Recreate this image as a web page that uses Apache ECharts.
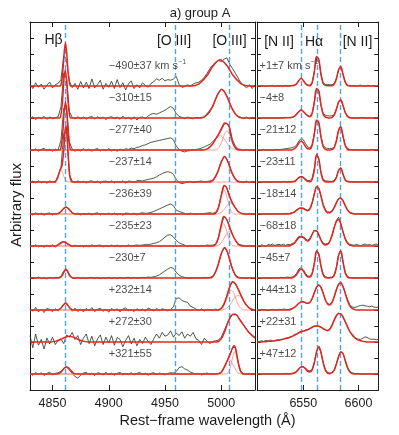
<!DOCTYPE html>
<html><head><meta charset="utf-8">
<script src="https://cdn.jsdelivr.net/npm/echarts@6/dist/echarts.min.js"></script>
<style>html,body{margin:0;padding:0;background:#fff}#c{width:399px;height:435px}</style>
</head><body><div id="c"></div>
<script>
// ---------------- DATA ----------------
const leftStart = 4830, leftStep = 2.5;     // observed grid, left panel (Angstrom)
const rightStart = 6508, rightStep = 2;     // observed grid, right panel
const restLeft = [4861.3, 4958.9, 5006.8];
const restRight = [6548.05, 6562.8, 6583.45];
const ticksLeft = [4850, 4900, 4950, 5000];
const ticksRight = [6550, 6600];
const velLeft = ['−490±37', '−310±15', '−277±40', '−237±14', '−236±39', '−235±23', '−230±7', '+232±14', '+272±30', '+321±55'];
const velRight = ['+1±7', '−4±8', '−21±12', '−23±11', '−18±14', '−68±18', '−45±7', '+44±13', '+22±31', '+47±12'];

// observed spectra, left panel (flux, 100 = row spacing)
const obsL1 = [5,-8,10,-4,6,-10,3,12,-6,4, 8,20,95,80,15,-5,8,-10,14,-6, 12,-8,22,-6,5,18,-10,8,-4,15, -8,20,-5,10,-12,6,16,-8,4,-6, 10,2,-4,8,14,22,18,24,16,20, 18,22,30,5,-4,-2,4,0,6,10, 12,18,28,40,55,66,74,80,76,84,88,68,55,40,25,10,2,-6,4,-8,3];
const obsL2 = [-3,4,-5,2,-2,5,-4,3,-2,1, 4,35,140,125,20,2,-3,4,-2,3, -4,2,5,-3,4,-2,3,-5,2,4, -2,3,-4,6,-3,2,-5,4,-6,2, 3,-2,6,12,14,12,16,20,24,30, 36,30,14,5,2,-2,3,0,-3,2, 0,2,3,9,19,37,59,79,90,85,68,46,26,12,5,2,-2,3,-3,2,0];
const obsL3 = [3,-2,4,-4,2,5,-3,2,-4,3, 0,30,130,140,25,3,-4,2,-3,4, -2,3,-4,2,5,-3,2,-2,4,-3, 2,-4,3,-2,4,2,6,4,8,10, 14,16,20,24,26,28,30,32,34,36, 38,32,12,2,-4,-6,-3,-2,0,2, 3,6,10,14,18,26,36,48,62,80,84,70,32,12,4,2,-2,2,-1,2,0];
const obsL4 = [-2,3,-3,4,-2,2,-4,3,1,-2, 20,45,150,165,22,3,-3,4,-2,2, -3,2,4,-2,3,-4,2,3,-2,4, -3,2,-2,4,-3,3,2,-2,4,5, 3,6,8,10,12,16,22,26,30,32, 30,24,8,-2,-5,-3,0,2,-2,1, 2,3,1,2,3,6,16,38,64,80,72,50,24,9,3,1,-2,3,-2,2,0];
const obsL5 = [2,-3,4,-2,3,-4,2,3,-3,2, 2,8,18,22,12,4,-2,3,-3,2, -2,3,-3,2,4,-3,2,-2,3,-2, 3,-3,2,-4,3,2,-2,3,-3,2, 4,2,3,5,8,12,16,20,24,28, 31,26,12,8,5,2,-2,3,0,-2, 2,-1,2,3,4,2,5,20,58,89,82,55,34,19,8,2,0,-2,2,-1,0];
const obsL6 = [3,-2,4,-3,2,-4,3,-2,4,-3, 5,12,14,8,2,-2,3,-2,2,-3, 2,-3,4,-2,2,3,-3,2,-2,3, -2,3,-3,2,-2,4,-2,2,3,2, 3,5,4,6,8,10,14,20,28,34, 35,28,18,10,6,3,-2,2,-1,2, -2,2,1,3,2,3,5,26,66,92,82,58,36,18,6,3,2,-2,2,-1,0];
const obsL7 = [-2,2,-1,3,-2,1,-3,2,-1,2, 1,5,22,26,6,0,-2,2,-1,1, -2,1,2,-1,2,-2,1,-1,2,-1, 1,-2,2,-1,1,2,-1,2,0,1, 2,1,3,2,4,6,10,16,22,28, 33,30,18,9,4,2,0,-1,1,0, 1,0,2,1,2,6,20,45,76,94,86,58,28,10,3,1,0,-1,1,0,0];
const obsL8 = [6,-4,8,-6,3,-8,5,2,-5,4, -3,6,18,22,8,-4,6,-5,3,-6, 5,-3,8,-5,2,6,-4,3,-7,5, -2,4,-6,3,7,-3,2,-5,4,-2, 3,-4,6,2,-3,5,-2,4,1,-3, 2,10,36,38,30,26,24,12,8,3, -2,4,-3,2,1,-2,3,-1,5,19,44,72,88,82,65,46,28,15,6,2,1];
const obsL9 = [20,-18,25,-10,8,-22,12,-6,15,-8, 5,10,-5,22,15,30,8,20,-8,12, 25,-5,18,-12,10,22,-8,15,-3,20, -10,14,8,-15,5,20,-6,12,-12,8, -5,15,2,-8,10,25,12,30,18,22, 35,15,28,20,32,12,25,18,30,10, 5,-8,12,2,-5,2,4,6,15,35,55,72,86,88,78,66,52,40,30,22,15];
const obsL10 = [3,-4,5,-2,4,-5,2,6,-3,2, 4,8,18,22,12,2,-8,-13,-4,3, 5,-2,3,-5,4,2,-3,5,-2,3, -4,2,5,-3,2,-2,4,-3,2,5, -2,3,-4,2,4,-2,3,1,-3,2, 4,3,8,20,23,16,12,6,3,-2, 2,-3,1,3,-1,2,1,2,6,20,40,58,82,84,37,7,1,-2,2,-1,1];

// model fits, left panel: [wavelength, flux]
const fitL1 = [[4830,0],[4856.7,0],[4858,12],[4859.3,50],[4860.4,105],[4861.5,134],[4862.6,105],[4863.7,50],[4865,12],[4866.3,0],[4973.5,0],[4980.3,7],[4987,31],[4993,64],[4999,82],[5005,64],[5011,31],[5017.7,7],[5024.5,0],[5030,0]];
const fitL2 = [[4830,0],[4856.2,0],[4857.6,13],[4859,56],[4860.1,117],[4861.3,150],[4862.5,117],[4863.7,56],[4865,13],[4866.4,0],[4982.5,0],[4986.3,8],[4992.1,35],[4996.3,70],[5000.5,90],[5004.7,70],[5008.9,35],[5013.7,8],[5018.5,0],[5030,0]];
const fitL3 = [[4830,0],[4856.4,0],[4857.8,13],[4859.2,56],[4860.3,117],[4861.5,150],[4862.7,117],[4863.8,56],[4865.2,13],[4866.6,0],[4984,0],[4988,4],[4992,17],[4995,34],[4998,52],[5001,73],[5003,84],[5005,82],[5007,73],[5009,37],[5011,16],[5013,5],[5016,0],[5030,0]];
const fitL4 = [[4830,0],[4851,0],[4853,3],[4855,18],[4857,40],[4858.5,51],[4860,98],[4861,153],[4862,176],[4863,145],[4864,80],[4865.5,16],[4867,1],[4868,0],[4989.5,0],[4993,7],[4996.7,30],[5000,62],[5003,80],[5006,62],[5009.3,30],[5013,7],[5016.5,0],[5030,0]];
const fitL5 = [[4830,0],[4853,0],[4855.5,2],[4857.8,8.5],[4859.9,17],[4862,22],[4864.1,17],[4866.2,8.5],[4868.5,2],[4871,0],[4993,0],[4996,7],[4998,26],[5000,58],[5002.5,89],[5004.5,84],[5006.5,64],[5008,49],[5010,34],[5012.5,19],[5015,8],[5018,2],[5021,0],[5030,0]];
const fitL6 = [[4830,0],[4851,0],[4853.5,1],[4855.8,5],[4857.9,10],[4860,13],[4862.1,10],[4864.2,5],[4866.5,1],[4869,0],[4992,0],[4995,5],[4997.5,26],[5000,66],[5002.2,92],[5005,82],[5007.5,58],[5010,36],[5012.5,18],[5015,6],[5018,1],[5021,0],[5030,0]];
const fitL7 = [[4830,0],[4855.4,0],[4857.2,2.5],[4859,10],[4860.5,21],[4862,27],[4863.5,21],[4865,10],[4866.8,2.5],[4868.6,0],[4989.5,0],[4993,6],[4996.7,35],[5000,76],[5003,95],[5006,76],[5009.3,35],[5013,6],[5016.5,0],[5030,0]];
const fitL8 = [[4830,0],[4854,0],[4856,2],[4858,8],[4860,17],[4861.5,22],[4863,17],[4865,8],[4867,2],[4869,0],[4997,0],[5000,5],[5002.5,19],[5005,44],[5007.5,72],[5010,88],[5012.5,82],[5015,65],[5017.5,46],[5020,28],[5022.5,15],[5025,6],[5028,1],[5030,0]];
const fitL9 = [[4830,0],[4847,0],[4852,2],[4856.6,7],[4860.8,14],[4865,18],[4869.2,14],[4873.4,7],[4878,2],[4883,0],[4996,0],[5000,10],[5003,32],[5006,62],[5010,86],[5013,86],[5016,72],[5020,52],[5024,32],[5028,18],[5030,12]];
const fitL10 = [[4830,0],[4853.5,0],[4856,2],[4858.3,9],[4860.4,18],[4862.5,23],[4864.6,18],[4866.7,9],[4869,2],[4871.5,0],[4996,0],[4999,3],[5001,10],[5004,31],[5007,55],[5009,72],[5010.5,85],[5011.7,88],[5013,75],[5014,57],[5015,37],[5016,21],[5017.5,7],[5020,0],[5030,0]];

// fit components, left panel
const compL3a = [[4830,0],[4984,0],[4988,4],[4992,17],[4995,33],[4999,45],[5003,33],[5006,17],[5010,4],[5014,0],[5030,0]];
const compL3b = [[4830,0],[4994.5,0],[4998,8],[5001,31],[5003,51],[5005,60],[5007,51],[5009,31],[5012,8],[5015.5,0],[5030,0]];
const compL4a = [[4830,0],[4851,0],[4853,3],[4855,18],[4857.5,40],[4860,18],[4862,3],[4864,0],[5030,0]];
const compL5a = [[4830,0],[4993.5,0],[4996,7],[4998.3,32],[5000.4,58],[5002.5,75],[5004.6,58],[5006.7,32],[5009,7],[5011.5,0],[5030,0]];
const compL5b = [[4830,0],[4996,0],[5000,5],[5003,16],[5005,27],[5008,35],[5011,27],[5013,16],[5016,5],[5020,0],[5030,0]];
const compL6a = [[4830,0],[4993,0],[4995.5,7],[4997.8,30],[4999.9,55],[5002,70],[5004.1,55],[5006.2,30],[5008.5,7],[5011,0],[5030,0]];
const compL6b = [[4830,0],[4995,0],[4999,6],[5002,21],[5004.2,35],[5007,45],[5009.8,35],[5012,21],[5015,6],[5019,0],[5030,0]];
const compL8a = [[4830,0],[4997,0],[5001,6],[5004.5,30],[5006.8,53],[5009,62],[5011.2,53],[5013.5,30],[5017,6],[5021,0],[5030,0]];
const compL8b = [[4830,0],[5000,0],[5005,6],[5009,22],[5012,40],[5015,45],[5018,40],[5021,22],[5025,6],[5030,0]];
const compL10a = [[4830,0],[5004.5,0],[5007,9.5],[5009,34],[5010.5,58],[5012,70],[5013.5,58],[5015,34],[5017,9.5],[5019.5,0],[5030,0]];
const compL10b = [[4830,0],[4996.5,0],[4999.5,5],[5002,19],[5004.5,35],[5007,45],[5009.5,35],[5012,19],[5014.5,5],[5017.5,0],[5030,0]];

// observed spectra, right panel
const obsR1 = [2,-1,1,0,-2,1,0,2,-1,1, 0,1,-1,2,0,1,2,3,8,18, 25,18,8,3,3,11,46,90,82,38, 10,5,5,4,4,8,24,52,60,37, 13,3,1,0,2,-1,1,3,0,-1, 2,1,0,2,-1,1];
const obsR2 = [1,0,-1,1,0,-1,1,0,1,-1, 0,1,0,2,1,2,3,6,13,21, 25,21,14,8,5,15,50,88,84,42, 14,9,7,6,7,11,28,50,55,39, 18,6,2,0,1,-1,0,1,2,0, -1,1,0,1,2,0];
const obsR3 = [1,-1,0,2,-1,1,0,-1,1,2, 1,2,3,4,5,6,8,10,16,28, 36,32,20,10,6,17,52,92,86,43, 14,7,5,4,5,9,30,62,72,44, 16,5,2,1,0,2,-1,1,0,1, -1,0,2,1,0,1];
const obsR4 = [1,0,-1,1,0,1,-1,0,1,0, 1,0,2,1,0,1,2,3,8,15, 17,15,9,5,4,12,42,88,72,31, 8,4,3,2,2,5,16,38,44,26, 8,3,2,1,0,1,0,-1,1,0, 1,0,-1,1,0,1];
const obsR5 = [1,0,-1,1,0,1,0,-1,1,0, 1,0,1,2,1,2,4,7,13,18, 19,18,15,12,17,36,64,86,80,57, 30,13,7,6,10,21,36,48,50,42, 27,14,6,3,1,0,1,0,-1,1, 0,1,0,-1,1,0];
const obsR6 = [2,-3,4,1,-2,5,3,6,2,4, 5,3,6,2,5,4,8,10,22,30, 28,29,22,18,24,37,50,47,36,20, 9,6,8,15,34,58,80,90,70,45, 24,12,6,4,2,5,3,1,4,6, 3,5,2,4,6,3];
const obsR7 = [1,0,-1,1,0,1,-1,0,1,0, 1,2,1,2,3,2,3,7,15,28, 32,26,14,7,5,15,46,86,75,38, 12,4,2,2,3,10,34,72,84,51, 18,5,2,1,0,1,0,-1,1,0, 1,0,-1,1,0,1];
const obsR8 = [1,-1,2,0,1,-2,1,2,0,1, 2,1,3,2,1,3,5,9,15,22, 26,25,22,20,23,35,55,72,79,70, 52,31,20,18,24,42,64,82,86,74, 54,33,18,10,8,9,12,14,15,13, 12,10,12,9,8,10];
const obsR9 = [3,1,4,2,5,3,6,4,3,7, 5,9,8,12,11,16,17,24,24,30, 34,33,38,38,43,45,50,49,48,47, 41,39,35,41,53,70,84,90,87,79, 62,49,33,22,14,10,9,8,12,16, 14,10,8,9,7,8];
const obsR10 = [1,0,-1,1,0,1,0,-1,1,0, 1,0,1,2,1,1,2,4,9,17, 23,23,18,12,10,14,37,70,86,67, 36,14,5,3,5,13,32,56,70,64, 43,22,9,4,2,1,2,0,1,-1, 1,0,1,-1,0,1];

// model fits, right panel (same wavelength grid)
const fitR1 = [0,0,0,0,0,0,0,0,0,0, 0,0,0,0,0,0,1,2,7,17, 24,17,7,2,1,10,44,92,84,36, 8,2,1,1,1,6,22,50,60,36, 12,2,0,0,0,0,0,0,0,0, 0,0,0,0,0,0];
const fitR2 = [0,0,0,0,0,0,0,0,0,0, 0,0,0,1,1,1,2,5,12,20, 25,20,13,7,4,14,50,92,85,40, 12,3,1,0,2,9,27,50,56,39, 17,5,1,0,0,0,0,0,0,0, 0,0,0,0,0,0];
const fitR3 = [0,0,0,0,0,0,0,0,0,0, 0,0,0,0,0,0,1,4,11,22, 27,22,11,4,3,15,50,94,86,41, 11,2,0,0,1,7,28,62,73,43, 14,2,0,0,0,0,0,0,0,0, 0,0,0,0,0,0];
const fitR4 = [0,0,0,0,0,0,0,0,0,0, 0,0,0,0,0,0,0,1,7,14, 17,14,7,2,1,8,37,84,72,29, 5,1,0,0,0,3,14,36,44,24, 6,1,0,0,0,0,0,0,0,0, 0,0,0,0,0,0];
const fitR5 = [0,0,0,0,0,0,0,0,0,0, 0,0,0,0,0,1,3,6,12,17, 19,17,13,10,16,34,62,85,80,56, 28,11,4,4,9,20,35,47,50,41, 26,13,5,2,0,0,0,0,0,0, 0,0,0,0,0,0];
const fitR6 = [0,0,0,0,0,0,0,0,0,0, 0,0,0,0,0,1,4,9,18,26, 29,27,20,16,22,36,48,48,35,18, 7,3,5,14,32,57,77,83,68,44, 22,9,3,1,0,0,0,0,0,0, 0,0,0,0,0,0];
const fitR7 = [0,0,0,0,0,0,0,0,0,0, 0,0,0,0,0,0,1,4,11,22, 27,22,11,4,3,13,45,84,75,37, 10,1,0,0,1,8,32,71,84,50, 16,3,0,0,0,0,0,0,0,0, 0,0,0,0,0,0];
const fitR8 = [0,0,0,0,0,0,0,0,0,0, 0,0,0,0,0,1,4,8,14,21, 25,26,23,21,24,36,54,71,78,71, 53,32,19,16,23,41,63,80,85,73, 52,30,14,6,2,0,0,0,0,0, 0,0,0,0,0,0];
const fitR9 = [0,0,0,1,1,2,2,3,4,5, 6,7,9,11,13,15,18,21,25,29, 32,34,36,39,42,46,49,50,49,46, 42,38,36,40,52,68,82,89,88,78, 64,48,34,24,16,10,6,4,2,1, 0,0,0,0,0,0];
const fitR10 = [0,0,0,0,0,0,0,0,0,0, 0,0,0,0,0,0,1,3,8,16, 22,22,16,8,6,13,35,68,85,68, 35,12,3,1,4,12,31,54,69,64, 42,20,7,2,0,0,0,0,0,0, 0,0,0,0,0,0];

// ---------------- LAYOUT / STYLE ----------------
const FONT = "'Liberation Sans', Arial, sans-serif";
const INK = '#1c1c1c';
const ROWS = 10, ROW_STEP = 100;
const off = r => (ROWS - 1 - r) * ROW_STEP;
const LAB_X_L = 4900, LAB_X_R = 6510.3, LAB_DY = 62;

const obsLeft = [obsL1, obsL2, obsL3, obsL4, obsL5, obsL6, obsL7, obsL8, obsL9, obsL10];
const fitLeft = [fitL1, fitL2, fitL3, fitL4, fitL5, fitL6, fitL7, fitL8, fitL9, fitL10];
const compLeft = [[2, compL3a], [2, compL3b], [3, compL4a], [4, compL5a], [4, compL5b], [5, compL6a], [5, compL6b], [7, compL8a], [7, compL8b], [9, compL10a], [9, compL10b]];
const obsRight = [obsR1, obsR2, obsR3, obsR4, obsR5, obsR6, obsR7, obsR8, obsR9, obsR10];
const fitRight = [fitR1, fitR2, fitR3, fitR4, fitR5, fitR6, fitR7, fitR8, fitR9, fitR10];

function xPair(gi, min, max, major) {
  const base = { gridIndex: gi, type: 'value', min, max, splitLine: { show: false },
    axisLine: { onZero: false, lineStyle: { color: INK, width: 1 } } };
  return [
    Object.assign({}, base, { position: 'bottom',
      axisTick: { inside: true, length: 5, customValues: major, lineStyle: { color: INK } },
      axisLabel: { customValues: major, fontSize: 12.5, color: INK, fontFamily: FONT, margin: 7, formatter: v => String(v) } }),
    Object.assign({}, base, { position: 'top',
      axisTick: { inside: true, length: 5, customValues: major, lineStyle: { color: INK } },
      axisLabel: { show: false } })
  ];
}
function yPair(gi) {
  const base = { gridIndex: gi, type: 'value', min: -50, max: 1100, interval: 50, splitLine: { show: false },
    axisLine: { onZero: false, lineStyle: { color: INK, width: 1 } },
    axisTick: { inside: true, length: 4, lineStyle: { color: INK } }, axisLabel: { show: false } };
  return [Object.assign({}, base, { position: 'left' }), Object.assign({}, base, { position: 'right' })];
}

const series = [];
function dashed(xi, yi, vals) {
  series.push({ type: 'line', xAxisIndex: xi, yAxisIndex: yi, data: [], silent: true, z: 1,
    markLine: { symbol: ['none', 'none'], silent: true, animation: false, label: { show: false },
      lineStyle: { color: '#4fa3ee', width: 1.4, type: [5, 3] },
      data: vals.map(v => ({ xAxis: v })) } });
}
dashed(0, 0, restLeft);
dashed(2, 2, restRight);

const obsStyle = { color: '#2a2a2a', width: 0.8 };
const fitStyle = { color: '#e3261d', width: 1.5 };
const compStyle = { color: '#f28a84', width: 0.8 };

obsLeft.forEach((arr, r) => series.push({ type: 'line', xAxisIndex: 0, yAxisIndex: 0, showSymbol: false, silent: true, z: 3,
  lineStyle: obsStyle, data: arr.map((v, i) => [leftStart + i * leftStep, v + off(r)]) }));
compLeft.forEach(([r, pts]) => series.push({ type: 'line', xAxisIndex: 0, yAxisIndex: 0, showSymbol: false, silent: true, z: 4,
  smooth: 0.3, lineStyle: compStyle, data: pts.map(p => [p[0], p[1] + off(r)]) }));
fitLeft.forEach((pts, r) => series.push({ type: 'line', xAxisIndex: 0, yAxisIndex: 0, showSymbol: false, silent: true, z: 5,
  smooth: 0.3, lineStyle: fitStyle, data: pts.map(p => [p[0], p[1] + off(r)]) }));

obsRight.forEach((arr, r) => series.push({ type: 'line', xAxisIndex: 2, yAxisIndex: 2, showSymbol: false, silent: true, z: 3,
  lineStyle: obsStyle, data: arr.map((v, i) => [rightStart + i * rightStep, v + off(r)]) }));
fitRight.forEach((arr, r) => series.push({ type: 'line', xAxisIndex: 2, yAxisIndex: 2, showSymbol: false, silent: true, z: 5,
  smooth: 0.35, lineStyle: fitStyle, data: arr.map((v, i) => [rightStart + i * rightStep, v + off(r)]) }));

const labRich = { v: { fontSize: 11, fontFamily: FONT, color: INK, lineHeight: 16 },
                  s: { fontSize: 7, fontFamily: FONT, color: INK, lineHeight: 8, verticalAlign: 'top' } };
function labels(xi, yi, x, texts) {
  series.push({ type: 'scatter', xAxisIndex: xi, yAxisIndex: yi, symbolSize: 0, silent: true, z: 6,
    data: texts.map((t, r) => ({ value: [x, off(r) + LAB_DY], name: t })),
    label: { show: true, position: 'right', distance: 0, rich: labRich,
      formatter: p => p.dataIndex === 0 ? '{v|' + p.name + ' km s}{s|−1}' : '{v|' + p.name + '}' } });
}
labels(0, 0, LAB_X_L, velLeft);
labels(2, 2, LAB_X_R, velRight);

function txt(x, y, s, size, rot) {
  return { type: 'text', x, y, rotation: rot || 0, silent: true, z: 10,
    style: { text: s, fill: INK, font: size + 'px ' + FONT, textAlign: 'center', textVerticalAlign: 'middle', align: 'center', verticalAlign: 'middle' } };
}

const option = {
  animation: false,
  backgroundColor: '#fff',
  textStyle: { fontFamily: FONT },
  grid: [
    { left: 30, top: 22, width: 225, height: 368 },
    { left: 257, top: 22, width: 121.3, height: 368 }
  ],
  xAxis: [...xPair(0, 4830, 5030, ticksLeft), ...xPair(1, 6508, 6618, ticksRight)],
  yAxis: [...yPair(0), ...yPair(1)],
  series,
  graphic: [
    txt(200, 13, 'a) group A', 13),
    txt(53.5, 40, 'Hβ', 14),
    txt(174, 41, '[O III]', 14),
    txt(229.5, 41, '[O III]', 14),
    txt(279, 42, '[N II]', 14),
    txt(314, 42, 'Hα', 14),
    txt(357.5, 42, '[N II]', 14),
    txt(16.5, 205, 'Arbitrary flux', 15, Math.PI / 2),
    txt(207.5, 421, 'Rest−frame wavelength (Å)', 14.5)
  ]
};
const chart = echarts.init(document.getElementById('c'), null, { renderer: 'canvas', width: 399, height: 435 });
chart.setOption(option);
</script></body></html>
